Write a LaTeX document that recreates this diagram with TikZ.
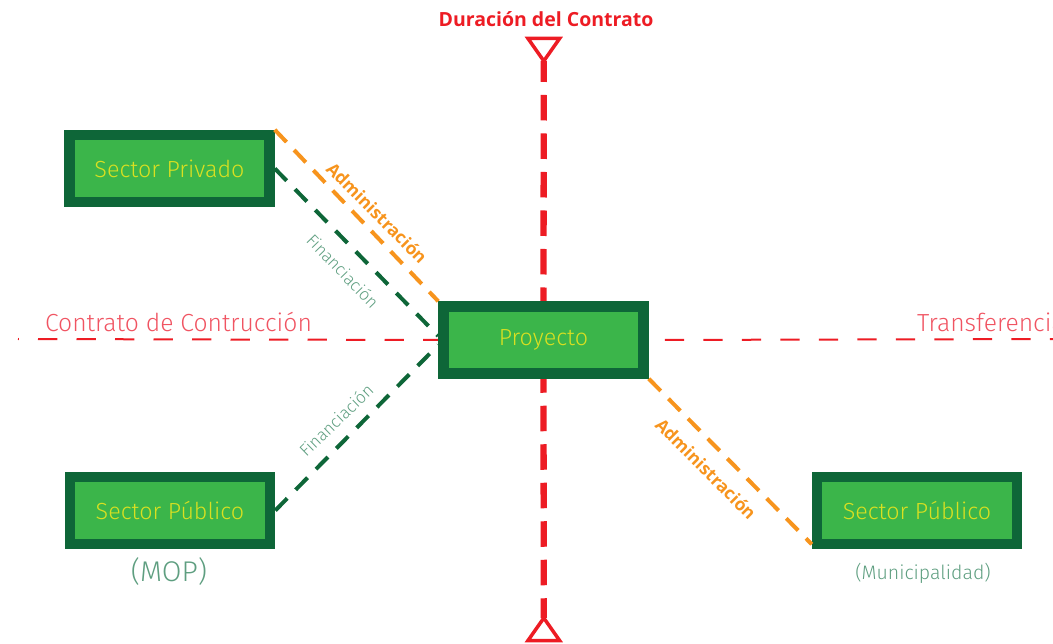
\documentclass[tikz,border=0pt]{standalone}
\usepackage{fontspec}
\setmainfont{Open Sans}
\newfontfamily\lite{Fira Sans Light}
\usetikzlibrary{backgrounds}

\definecolor{verdeosc}{HTML}{0E6638}
\definecolor{verde}{HTML}{3BB54A}
\definecolor{amarillo}{HTML}{D9E021}
\definecolor{rojo}{HTML}{ED1C24}
\definecolor{rojoclaro}{HTML}{F05462}
\definecolor{naranja}{HTML}{F7941D}
\definecolor{verdegris}{HTML}{5E9E80}

\begin{document}
\begin{tikzpicture}[x=1pt,y=-1pt,
		caja/.style={draw=verdeosc, fill=verde, line width=10.5pt, minimum width=200pt, minimum height=67pt, inner sep=0pt, text=amarillo, font=\lite\fontsize{23.3}{23.3}\selectfont},
		eje/.style={rojo, line width=6.3pt, dash pattern=on 25.5pt off 13pt},
		ejefino/.style={rojo, line width=2pt, dash pattern=on 19.3pt off 19.2pt},
		admin/.style={naranja, line width=4pt, dash pattern=on 17pt off 11pt},
		finan/.style={verdeosc, line width=4pt, dash pattern=on 17pt off 12pt},
		etqadmin/.style={text=naranja, font=\bfseries\fontsize{17.5}{17.5}\selectfont},
		etqfinan/.style={text=verdegris, font=\lite\fontsize{17}{17}\selectfont}]
	\clip (0,0) rectangle (1053,644);
	
	\node[caja] (priv) at (169.5,168.5) {Sector Privado};
	\node[caja] (proy) at (543.5,340) {Proyecto};
	\node[caja] (mop) at (170,510.5) {Sector Público};
	\node[caja] (muni) at (917,510.5) {Sector Público};
	
	\node[text=verdegris, font=\lite\fontsize{28.5}{28.5}\selectfont] (mopl) at (169,572) {(MOP)};
	\node[text=verdegris, font=\lite\fontsize{19.5}{19.5}\selectfont] (munil) at (923,573) {(Municipalidad)};
	
	% ejes del contrato
	\node[text=rojo, font=\bfseries\fontsize{19.5}{19.5}\selectfont] (titulo) at (546,19) {Duración del Contrato};
	\coordinate (dtop) at (543.8,61);
	\coordinate (dbot) at (543.8,618);
	\coordinate (hizq) at (18,339);
	\coordinate (hder) at (1060,339);
	\node[text=rojoclaro, font=\lite\fontsize{24.7}{24.7}\selectfont] (constr) at (178.5,322) {Contrato de Contrucción};
	\node[text=rojoclaro, font=\lite\fontsize{24.7}{24.7}\selectfont, anchor=west, inner sep=0pt] (transf) at (917,322) {Transferencia};
	
	\begin{scope}[on background layer]
		\draw[eje, dash phase=4.5pt] (dtop) -- (proy.north);
		\draw[eje, dash phase=11.5pt] (proy.south) -- (dbot);
		\draw[ejefino, dash phase=18.5pt] (hizq) -- (proy.west);
		\draw[ejefino, dash phase=22.5pt] (proy.east) -- (hder);
	\end{scope}
	\draw[rojo, line width=3.5pt, line join=miter] (528,38.5) -- (559.6,38.5) -- (dtop) -- cycle;
	\draw[rojo, line width=3.5pt, line join=miter] (528,640.5) -- (559.6,640.5) -- (dbot) -- cycle;
	
	% conectores
	\draw[admin] (priv.north east) -- (proy.north west);
	\draw[finan] (priv.east) -- ([yshift=4pt]proy.west);
	\draw[finan] (mop.east) -- ([yshift=-5pt]proy.west);
	\draw[admin] (proy.south east) -- ([yshift=5pt]muni.south west);
	
	\node[etqadmin, rotate=-45] (adm1) at (377,213) {Administración};
	\node[etqfinan, rotate=-46] (fin1) at (343,271) {Financiación};
	\node[etqfinan, rotate=44] (fin2) at (336,420) {Financiación};
	\node[etqadmin, rotate=-45] (adm2) at (706,469) {Administración};
\end{tikzpicture}
\end{document}
